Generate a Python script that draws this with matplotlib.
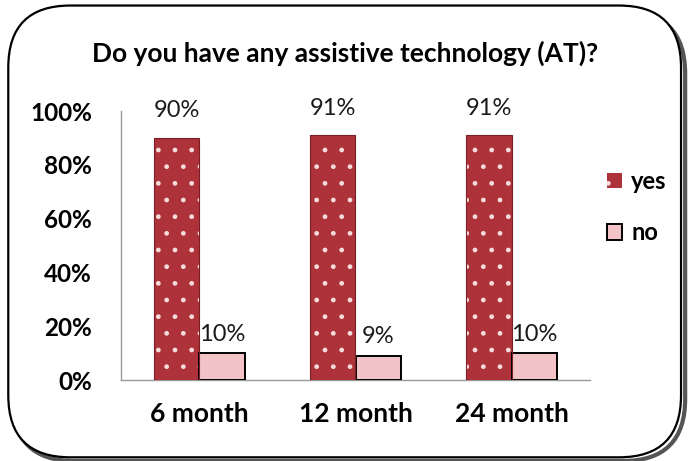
import numpy as np
import matplotlib.pyplot as plt
from matplotlib.patches import FancyBboxPatch

plt.rcParams['font.family'] = ['Lato', 'DejaVu Sans']
plt.rcParams['font.weight'] = 'bold'
plt.rcParams['hatch.linewidth'] = 1.0

periods = ['6 month', '12 month', '24 month']
yes_pct = [90, 91, 91]
no_pct = [10, 9, 10]

fig = plt.figure(figsize=(6.9, 4.61), dpi=100)

# rounded frame with a soft shadow
shadow = FancyBboxPatch((0.018, 0.0), 0.975, 0.975, boxstyle='round,pad=0,rounding_size=0.09',
                        transform=fig.transFigure, facecolor='none', edgecolor='#555555',
                        linewidth=3, zorder=-2, mutation_aspect=690 / 461)
frame = FancyBboxPatch((0.012, 0.008), 0.975, 0.98, boxstyle='round,pad=0,rounding_size=0.09',
                       transform=fig.transFigure, facecolor='white', edgecolor='black',
                       linewidth=1.6, zorder=-1, mutation_aspect=690 / 461)
fig.patches.extend([shadow, frame])

ax = fig.add_axes([121 / 690, 1 - 380 / 461, (590 - 121) / 690, 269 / 461])
ax.set_facecolor('none')

x = np.arange(len(periods))
w = 0.29
# dotted fill (hatch colour follows edgecolor), then a separate outline
b1 = ax.bar(x - w / 2, yes_pct, w, color='#AD3239', edgecolor='#f5dcdc', linewidth=0,
            hatch='.', label='yes', zorder=3)
ax.bar(x - w / 2, yes_pct, w, fill=False, edgecolor='#7a1f26', linewidth=0.8, zorder=4)
b2 = ax.bar(x + w / 2, no_pct, w, color='#F2C3C7', edgecolor='black', linewidth=1.4,
            label='no', zorder=3)

for bars, vals, off in ((b1, yes_pct, 12), (b2, no_pct, 6)):
    for b, v in zip(bars, vals):
        ax.annotate(f'{v}%', (b.get_x() + b.get_width() / 2, v), xytext=(0, off),
                    textcoords='offset points', ha='center', va='bottom', fontsize=17,
                    fontweight='normal', color='#1a1a1a')

ax.set_xlim(-0.5, 2.5)
ax.set_ylim(0, 100)
ax.set_yticks(range(0, 101, 20))
ax.set_yticklabels([f'{t}%' for t in range(0, 101, 20)])
ax.set_xticks(x)
ax.set_xticklabels(periods)
ax.tick_params(axis='y', length=0, labelsize=17.5, pad=21)
ax.tick_params(axis='x', length=0, labelsize=19, pad=16)
for s in ('top', 'right'):
    ax.spines[s].set_visible(False)
for s in ('left', 'bottom'):
    ax.spines[s].set_color('#999999')
    ax.spines[s].set_linewidth(1)

fig.text(0.5, 1 - 53 / 461, 'Do you have any assistive technology (AT)?', ha='center',
         va='center', fontsize=19, fontweight='bold')

ax.legend(loc='upper left', bbox_to_anchor=(0.99, 0.86), frameon=False, fontsize=17,
          handlelength=0.65, handleheight=0.65, labelspacing=1.2, handletextpad=0.4)

fig.savefig('out.png', dpi=100)
